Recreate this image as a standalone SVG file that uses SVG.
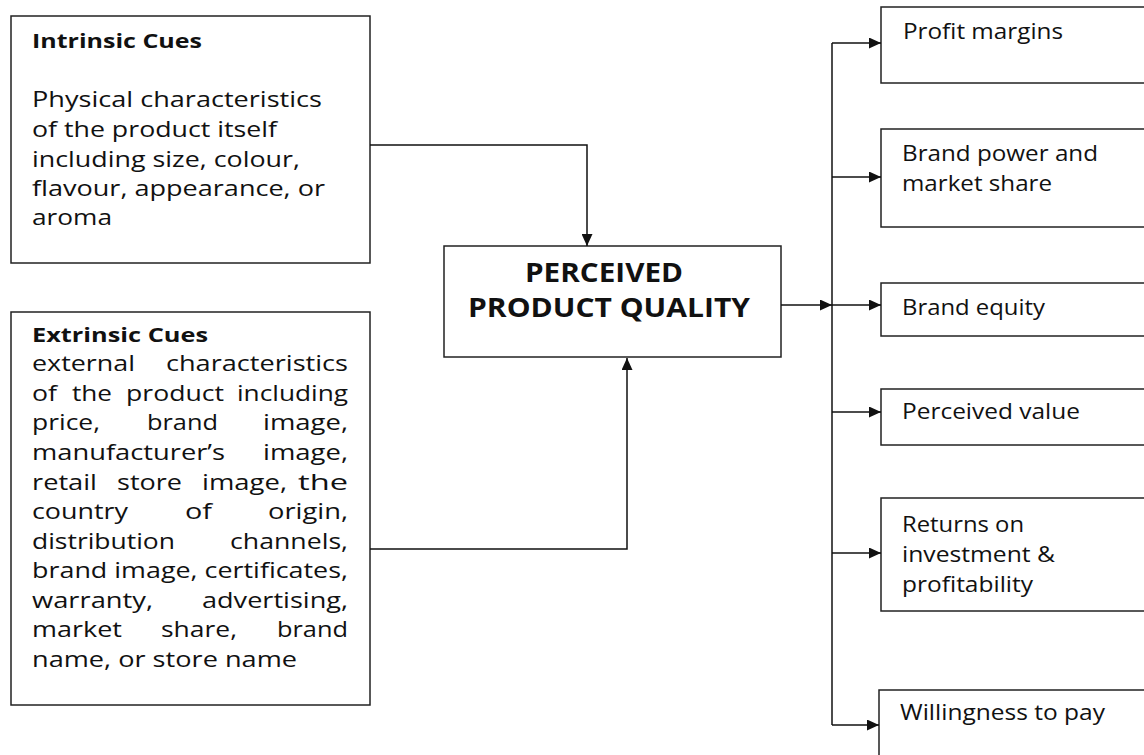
<svg xmlns="http://www.w3.org/2000/svg" width="1144" height="755" viewBox="0 0 1144 755">
<style>
.box{fill:#fff;stroke:#222;stroke-width:1.5}
.t{font-family:"Open Sans","Noto Sans",sans-serif;font-size:22px;fill:#111}
.b{font-family:"Open Sans","Noto Sans",sans-serif;font-size:20px;font-weight:bold;fill:#111}
.c{font-family:"Open Sans","Noto Sans",sans-serif;font-size:26px;font-weight:bold;fill:#111}
.ln{fill:none;stroke:#111;stroke-width:1.5}
</style>
<defs>
<marker id="arr" markerUnits="userSpaceOnUse" markerWidth="13" markerHeight="11" refX="12" refY="5.5" orient="auto">
<path d="M0,0 L12,5.5 L0,11 z" fill="#111"/>
</marker>
</defs>
<rect width="1144" height="755" fill="#fff"/>
<g id="intrinsic">
<rect class="box" x="11" y="16" width="359" height="247"/>
<text class="b" x="32" y="48" textLength="170" lengthAdjust="spacingAndGlyphs">Intrinsic Cues</text>
<text class="t" x="32" y="107" textLength="290" lengthAdjust="spacingAndGlyphs">Physical characteristics</text>
<text class="t" x="32" y="137" textLength="245" lengthAdjust="spacingAndGlyphs">of the product itself</text>
<text class="t" x="32" y="167" textLength="268" lengthAdjust="spacingAndGlyphs">including size, colour,</text>
<text class="t" x="32" y="196" textLength="293" lengthAdjust="spacingAndGlyphs">flavour, appearance, or</text>
<text class="t" x="32" y="225" textLength="80" lengthAdjust="spacingAndGlyphs">aroma</text>
</g>
<g id="extrinsic">
<rect class="box" x="11" y="312" width="359" height="393"/>
<text class="b" x="32" y="342" textLength="176" lengthAdjust="spacingAndGlyphs">Extrinsic Cues</text>
<text class="t" y="371"><tspan x="32" textLength="103" lengthAdjust="spacingAndGlyphs">external</tspan> <tspan x="166" textLength="182" lengthAdjust="spacingAndGlyphs">characteristics</tspan></text>
<text class="t" y="401"><tspan x="32" textLength="25" lengthAdjust="spacingAndGlyphs">of</tspan> <tspan x="72" textLength="40" lengthAdjust="spacingAndGlyphs">the</tspan> <tspan x="126" textLength="98" lengthAdjust="spacingAndGlyphs">product</tspan> <tspan x="237" textLength="111" lengthAdjust="spacingAndGlyphs">including</tspan></text>
<text class="t" y="430"><tspan x="32" textLength="68" lengthAdjust="spacingAndGlyphs">price,</tspan> <tspan x="147" textLength="71" lengthAdjust="spacingAndGlyphs">brand</tspan> <tspan x="263" textLength="85" lengthAdjust="spacingAndGlyphs">image,</tspan></text>
<text class="t" y="460"><tspan x="32" textLength="193" lengthAdjust="spacingAndGlyphs">manufacturer’s</tspan> <tspan x="263" textLength="85" lengthAdjust="spacingAndGlyphs">image,</tspan></text>
<text class="t" y="490"><tspan x="32" textLength="65" lengthAdjust="spacingAndGlyphs">retail</tspan> <tspan x="117" textLength="65" lengthAdjust="spacingAndGlyphs">store</tspan> <tspan x="202" textLength="85" lengthAdjust="spacingAndGlyphs">image,</tspan> <tspan x="298" textLength="50" lengthAdjust="spacingAndGlyphs">the</tspan></text>
<text class="t" y="519"><tspan x="32" textLength="96" lengthAdjust="spacingAndGlyphs">country</tspan> <tspan x="185" textLength="27" lengthAdjust="spacingAndGlyphs">of</tspan> <tspan x="268" textLength="80" lengthAdjust="spacingAndGlyphs">origin,</tspan></text>
<text class="t" y="549"><tspan x="32" textLength="143" lengthAdjust="spacingAndGlyphs">distribution</tspan> <tspan x="230" textLength="118" lengthAdjust="spacingAndGlyphs">channels,</tspan></text>
<text class="t" x="32" y="578" textLength="316" lengthAdjust="spacingAndGlyphs">brand image, certificates,</text>
<text class="t" y="608"><tspan x="32" textLength="121" lengthAdjust="spacingAndGlyphs">warranty,</tspan> <tspan x="202" textLength="146" lengthAdjust="spacingAndGlyphs">advertising,</tspan></text>
<text class="t" y="637"><tspan x="32" textLength="90" lengthAdjust="spacingAndGlyphs">market</tspan> <tspan x="161" textLength="76" lengthAdjust="spacingAndGlyphs">share,</tspan> <tspan x="277" textLength="71" lengthAdjust="spacingAndGlyphs">brand</tspan></text>
<text class="t" x="32" y="667" textLength="265" lengthAdjust="spacingAndGlyphs">name, or store name</text>
</g>
<g id="quality">
<rect class="box" x="444" y="246" width="337" height="111"/>
<text class="c" x="525" y="282" textLength="158" lengthAdjust="spacingAndGlyphs">PERCEIVED</text>
<text class="c" x="468" y="317" textLength="282" lengthAdjust="spacingAndGlyphs">PRODUCT QUALITY</text>
</g>
<g id="profit">
<rect class="box" x="881" y="7" width="280" height="76"/>
<text class="t" x="903" y="39" textLength="160" lengthAdjust="spacingAndGlyphs">Profit margins</text>
</g>
<g id="brandpower">
<rect class="box" x="881" y="129" width="280" height="98"/>
<text class="t" x="902" y="161" textLength="196" lengthAdjust="spacingAndGlyphs">Brand power and</text>
<text class="t" x="902" y="191" textLength="150" lengthAdjust="spacingAndGlyphs">market share</text>
</g>
<g id="equity">
<rect class="box" x="881" y="283" width="280" height="53"/>
<text class="t" x="902" y="315" textLength="143" lengthAdjust="spacingAndGlyphs">Brand equity</text>
</g>
<g id="value">
<rect class="box" x="881" y="389" width="280" height="56"/>
<text class="t" x="902" y="419" textLength="178" lengthAdjust="spacingAndGlyphs">Perceived value</text>
</g>
<g id="returns">
<rect class="box" x="881" y="498" width="280" height="113"/>
<text class="t" x="902" y="532" textLength="122" lengthAdjust="spacingAndGlyphs">Returns on</text>
<text class="t" x="902" y="562" textLength="153" lengthAdjust="spacingAndGlyphs">investment &amp;</text>
<text class="t" x="902" y="592" textLength="131" lengthAdjust="spacingAndGlyphs">profitability</text>
</g>
<g id="willingness">
<rect class="box" x="879" y="690" width="282" height="80"/>
<text class="t" x="900" y="720" textLength="205" lengthAdjust="spacingAndGlyphs">Willingness to pay</text>
</g>
<g id="connectors">
<polyline class="ln" points="370,145 587,145 587,246" marker-end="url(#arr)"/>
<polyline class="ln" points="370,549 627,549 627,358" marker-end="url(#arr)"/>
<line class="ln" x1="781" y1="305" x2="832" y2="305" marker-end="url(#arr)"/>
<line class="ln" x1="832" y1="43" x2="832" y2="725"/>
<line class="ln" x1="832" y1="43" x2="881" y2="43" marker-end="url(#arr)"/>
<line class="ln" x1="832" y1="177" x2="881" y2="177" marker-end="url(#arr)"/>
<line class="ln" x1="832" y1="305" x2="881" y2="305" marker-end="url(#arr)"/>
<line class="ln" x1="832" y1="412" x2="881" y2="412" marker-end="url(#arr)"/>
<line class="ln" x1="832" y1="553" x2="881" y2="553" marker-end="url(#arr)"/>
<line class="ln" x1="832" y1="725" x2="879" y2="725" marker-end="url(#arr)"/>
</g>
</svg>
